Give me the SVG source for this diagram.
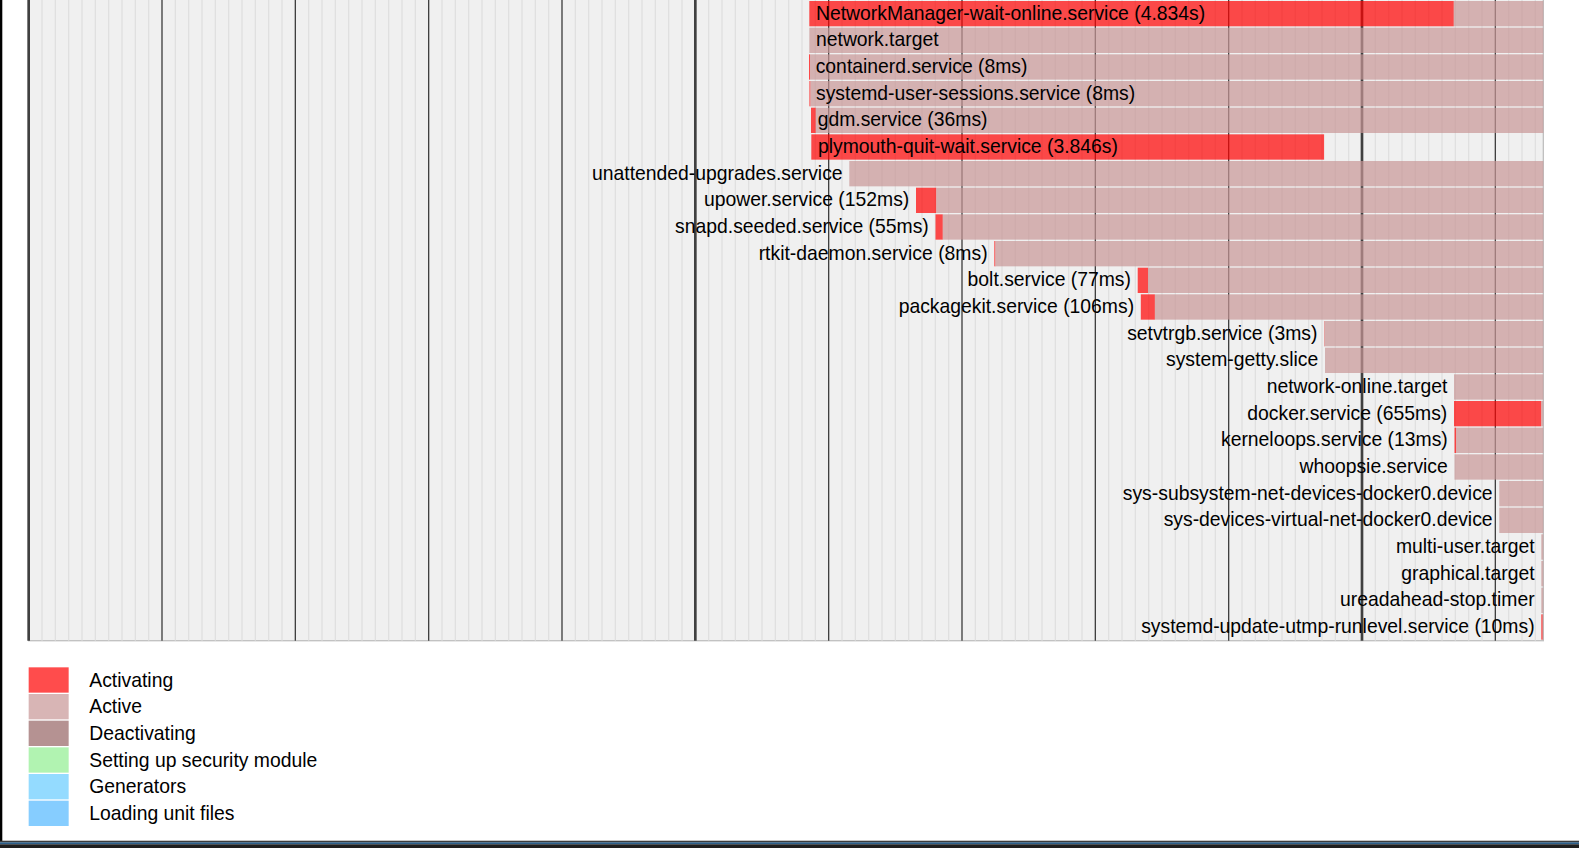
<svg xmlns="http://www.w3.org/2000/svg" xmlns:xlink="http://www.w3.org/1999/xlink" width="1579" height="848" viewBox="0 0 1579 848">
<style>
rect { stroke-width: 0; }
.box { fill: #f0f0f0; stroke: #c0c0c0; stroke-width: 1.33; }
.activating { fill: rgb(255,0,0); fill-opacity: 0.7; }
.active { fill: rgb(200,150,150); fill-opacity: 0.7; }
.deactivating { fill: rgb(150,100,100); fill-opacity: 0.7; }
.security { fill: rgb(144,238,144); fill-opacity: 0.7; }
.generators { fill: rgb(102,204,255); fill-opacity: 0.7; }
.unitsload { fill: rgb(82,184,255); fill-opacity: 0.7; }
.sec01 { stroke: rgb(224,224,224); stroke-width: 1.33; }
.sec1 { stroke: rgb(64,64,64); stroke-width: 1.33; }
.sec5 { stroke: rgb(64,64,64); stroke-width: 2.67; }
text { font-family: "Liberation Sans", Arial, sans-serif; font-size: 19.35px; fill: #000; }
.left { text-anchor: start; }
.right { text-anchor: end; }
</style>
<defs>
<clipPath id="boxclip"><rect x="28.667" y="-10" width="1514.667" height="650.7"/></clipPath>
<g id="minor" class="sec01">
<line x1="13.333" y1="-10" x2="13.333" y2="640.7"/>
<line x1="26.667" y1="-10" x2="26.667" y2="640.7"/>
<line x1="40" y1="-10" x2="40" y2="640.7"/>
<line x1="53.333" y1="-10" x2="53.333" y2="640.7"/>
<line x1="66.667" y1="-10" x2="66.667" y2="640.7"/>
<line x1="80" y1="-10" x2="80" y2="640.7"/>
<line x1="93.333" y1="-10" x2="93.333" y2="640.7"/>
<line x1="106.667" y1="-10" x2="106.667" y2="640.7"/>
<line x1="120" y1="-10" x2="120" y2="640.7"/>
</g>
</defs>
<rect x="0" y="0" width="1579" height="848" fill="#ffffff"/>
<g id="grid">
<rect class="box" x="28.667" y="-10" width="1514.667" height="650.7"/>
<g clip-path="url(#boxclip)">
<use xlink:href="#minor" transform="translate(28.667,0)"/>
<use xlink:href="#minor" transform="translate(162,0)"/>
<use xlink:href="#minor" transform="translate(295.333,0)"/>
<use xlink:href="#minor" transform="translate(428.667,0)"/>
<use xlink:href="#minor" transform="translate(562,0)"/>
<use xlink:href="#minor" transform="translate(695.333,0)"/>
<use xlink:href="#minor" transform="translate(828.667,0)"/>
<use xlink:href="#minor" transform="translate(962,0)"/>
<use xlink:href="#minor" transform="translate(1095.333,0)"/>
<use xlink:href="#minor" transform="translate(1228.667,0)"/>
<use xlink:href="#minor" transform="translate(1362,0)"/>
<use xlink:href="#minor" transform="translate(1495.333,0)"/>
</g>
<line class="sec5" x1="28.667" y1="-10" x2="28.667" y2="640.7"/>
<line class="sec1" x1="162" y1="-10" x2="162" y2="640.7"/>
<line class="sec1" x1="295.333" y1="-10" x2="295.333" y2="640.7"/>
<line class="sec1" x1="428.667" y1="-10" x2="428.667" y2="640.7"/>
<line class="sec1" x1="562" y1="-10" x2="562" y2="640.7"/>
<line class="sec5" x1="695.333" y1="-10" x2="695.333" y2="640.7"/>
<line class="sec1" x1="828.667" y1="-10" x2="828.667" y2="640.7"/>
<line class="sec1" x1="962" y1="-10" x2="962" y2="640.7"/>
<line class="sec1" x1="1095.333" y1="-10" x2="1095.333" y2="640.7"/>
<line class="sec1" x1="1228.667" y1="-10" x2="1228.667" y2="640.7"/>
<line class="sec5" x1="1362" y1="-10" x2="1362" y2="640.7"/>
<line class="sec1" x1="1495.333" y1="-10" x2="1495.333" y2="640.7"/>
</g>
<g id="units">
<g id="u-networkmanager-wait-online"><rect class="activating" x="809.3" y="1" width="644.5" height="25.33"/><rect class="active" x="1453.8" y="1" width="89.5" height="25.33"/><text class="left" x="816" y="19.67">NetworkManager-wait-online.service (4.834s)</text></g>
<g id="u-network-target"><rect class="active" x="809.3" y="27.67" width="734" height="25.33"/><text class="left" x="816" y="46.33">network.target</text></g>
<g id="u-containerd"><rect class="activating" x="809" y="54.33" width="1.07" height="25.33"/><rect class="active" x="810.07" y="54.33" width="733.23" height="25.33"/><text class="left" x="815.7" y="73">containerd.service (8ms)</text></g>
<g id="u-systemd-user-sessions"><rect class="activating" x="809.4" y="81" width="1.07" height="25.33"/><rect class="active" x="810.47" y="81" width="732.83" height="25.33"/><text class="left" x="816" y="99.67">systemd-user-sessions.service (8ms)</text></g>
<g id="u-gdm"><rect class="activating" x="811" y="107.67" width="4.8" height="25.33"/><rect class="active" x="815.8" y="107.67" width="727.5" height="25.33"/><text class="left" x="817.67" y="126.33">gdm.service (36ms)</text></g>
<g id="u-plymouth-quit-wait"><rect class="activating" x="811.3" y="134.33" width="512.8" height="25.33"/><text class="left" x="818" y="153">plymouth-quit-wait.service (3.846s)</text></g>
<g id="u-unattended-upgrades"><rect class="active" x="849.3" y="161" width="694" height="25.33"/><text class="right" x="842.6" y="179.67">unattended-upgrades.service</text></g>
<g id="u-upower"><rect class="activating" x="916" y="187.67" width="20.3" height="25.33"/><rect class="active" x="936.3" y="187.67" width="607" height="25.33"/><text class="right" x="909.3" y="206.33">upower.service (152ms)</text></g>
<g id="u-snapd-seeded"><rect class="activating" x="935.5" y="214.33" width="7.3" height="25.33"/><rect class="active" x="942.8" y="214.33" width="600.5" height="25.33"/><text class="right" x="928.8" y="233">snapd.seeded.service (55ms)</text></g>
<g id="u-rtkit-daemon"><rect class="activating" x="994.3" y="241" width="1.07" height="25.33"/><rect class="active" x="995.37" y="241" width="547.93" height="25.33"/><text class="right" x="987.6" y="259.67">rtkit-daemon.service (8ms)</text></g>
<g id="u-bolt"><rect class="activating" x="1137.7" y="267.67" width="10.3" height="25.33"/><rect class="active" x="1148" y="267.67" width="395.3" height="25.33"/><text class="right" x="1131" y="286.33">bolt.service (77ms)</text></g>
<g id="u-packagekit"><rect class="activating" x="1140.8" y="294.33" width="14.1" height="25.33"/><rect class="active" x="1154.9" y="294.33" width="388.4" height="25.33"/><text class="right" x="1134.1" y="313">packagekit.service (106ms)</text></g>
<g id="u-setvtrgb"><rect class="activating" x="1324.1" y="321" width="0.4" height="25.33"/><rect class="active" x="1324.5" y="321" width="218.8" height="25.33"/><text class="right" x="1317.4" y="339.67">setvtrgb.service (3ms)</text></g>
<g id="u-system-getty"><rect class="active" x="1325" y="347.67" width="218.3" height="25.33"/><text class="right" x="1318.3" y="366.33">system-getty.slice</text></g>
<g id="u-network-online-target"><rect class="active" x="1454" y="374.33" width="89.3" height="25.33"/><text class="right" x="1447.3" y="393">network-online.target</text></g>
<g id="u-docker"><rect class="activating" x="1454" y="401" width="87.3" height="25.33"/><rect class="active" x="1541.3" y="401" width="2" height="25.33"/><text class="right" x="1447.3" y="419.67">docker.service (655ms)</text></g>
<g id="u-kerneloops"><rect class="activating" x="1454.5" y="427.67" width="1.7" height="25.33"/><rect class="active" x="1456.2" y="427.67" width="87.1" height="25.33"/><text class="right" x="1447.8" y="446.33">kerneloops.service (13ms)</text></g>
<g id="u-whoopsie"><rect class="active" x="1454.5" y="454.33" width="88.8" height="25.33"/><text class="right" x="1447.8" y="473">whoopsie.service</text></g>
<g id="u-net-devices-docker0"><rect class="active" x="1499.3" y="481" width="44" height="25.33"/><text class="right" x="1492.6" y="499.67">sys-subsystem-net-devices-docker0.device</text></g>
<g id="u-virtual-net-docker0"><rect class="active" x="1499.3" y="507.67" width="44" height="25.33"/><text class="right" x="1492.6" y="526.33">sys-devices-virtual-net-docker0.device</text></g>
<g id="u-multi-user-target"><rect class="active" x="1541.3" y="534.33" width="2" height="25.33"/><text class="right" x="1534.6" y="553">multi-user.target</text></g>
<g id="u-graphical-target"><rect class="active" x="1541.3" y="561" width="2" height="25.33"/><text class="right" x="1534.6" y="579.67">graphical.target</text></g>
<g id="u-ureadahead-stop"><rect class="active" x="1541.3" y="587.67" width="2" height="25.33"/><text class="right" x="1534.6" y="606.33">ureadahead-stop.timer</text></g>
<g id="u-update-utmp-runlevel"><rect class="activating" x="1541.3" y="614.33" width="1.4" height="25.33"/><rect class="active" x="1542.7" y="614.33" width="0.6" height="25.33"/><text class="right" x="1534.6" y="633">systemd-update-utmp-runlevel.service (10ms)</text></g>
</g>
<g id="legend">
<g id="lg-activating"><rect class="activating" x="28.667" y="667.33" width="40" height="25.33"/><text class="left" x="89.3" y="686.67">Activating</text></g>
<g id="lg-active"><rect class="active" x="28.667" y="694" width="40" height="25.33"/><text class="left" x="89.3" y="713.33">Active</text></g>
<g id="lg-deactivating"><rect class="deactivating" x="28.667" y="720.67" width="40" height="25.33"/><text class="left" x="89.3" y="740">Deactivating</text></g>
<g id="lg-security"><rect class="security" x="28.667" y="747.33" width="40" height="25.33"/><text class="left" x="89.3" y="766.67">Setting up security module</text></g>
<g id="lg-generators"><rect class="generators" x="28.667" y="774" width="40" height="25.33"/><text class="left" x="89.3" y="793.33">Generators</text></g>
<g id="lg-unitsload"><rect class="unitsload" x="28.667" y="800.67" width="40" height="25.33"/><text class="left" x="89.3" y="820">Loading unit files</text></g>
</g>
<g id="frame">
<rect x="0" y="0" width="2.3" height="841" fill="#000000"/>
<rect x="0" y="840.7" width="1579" height="1.7" fill="#3c3c3c"/>
<rect x="0" y="842.3" width="1579" height="2" fill="#2c5d87"/>
<rect x="0" y="844.3" width="1579" height="3.7" fill="#1e1e1e"/>
</g>
</svg>
